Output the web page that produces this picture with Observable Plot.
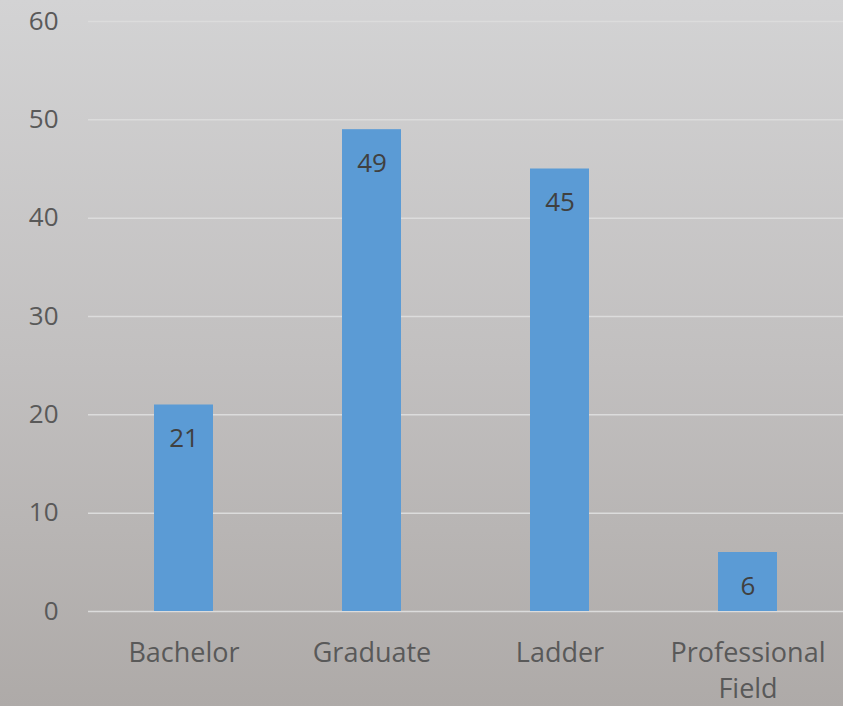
<!DOCTYPE html>
<html>
<head>
<meta charset="utf-8">
<script src="https://cdn.jsdelivr.net/npm/d3@7"></script>
<script src="https://cdn.jsdelivr.net/npm/@observablehq/plot@0.6"></script>
<style>
  html, body { margin: 0; padding: 0; }
  #chart { width: 843px; height: 706px; background: linear-gradient(to bottom, #d3d3d4 0%, #c2c0c0 50%, #aeaaa8 100%); }
  svg { display: block; }
</style>
</head>
<body>
<div id="chart"></div>
<script>
const categories = ["Bachelor", "Graduate", "Ladder", "Professional Field"];
const values = [21, 49, 45, 6];
const yTicks = [0, 10, 20, 30, 40, 50, 60];

const data = categories.map((c, i) => ({ category: c, value: values[i] }));

const chart = Plot.plot({
  width: 843,
  height: 706,
  marginTop: 21,
  marginBottom: 95,
  marginLeft: 88,
  marginRight: 0,
  style: { background: "transparent", fontFamily: "'Open Sans', sans-serif" },
  x: { domain: categories, paddingInner: 0.688, paddingOuter: 0.344, align: 0.5, label: null },
  y: { domain: [0, 60], label: null },
  marks: [
    Plot.ruleY(yTicks, { stroke: "#dcdcdc", strokeWidth: 1.5 }),
    Plot.barY(data, { x: "category", y: "value", fill: "#5b9bd5" }),
    Plot.text(data, { x: "category", y: "value", text: d => String(d.value), dy: 34, fill: "#404040", fontSize: 26 }),
    Plot.axisY({ ticks: yTicks, tickSize: 0, tickPadding: 30, fontSize: 26, fill: "#595959", label: null }),
    Plot.axisX({ tickSize: 0, tickPadding: 25, fontSize: 27, fill: "#595959", lineWidth: 7, lineHeight: 1.33, label: null })
  ]
});
document.getElementById("chart").appendChild(chart);
</script>
</body>
</html>
